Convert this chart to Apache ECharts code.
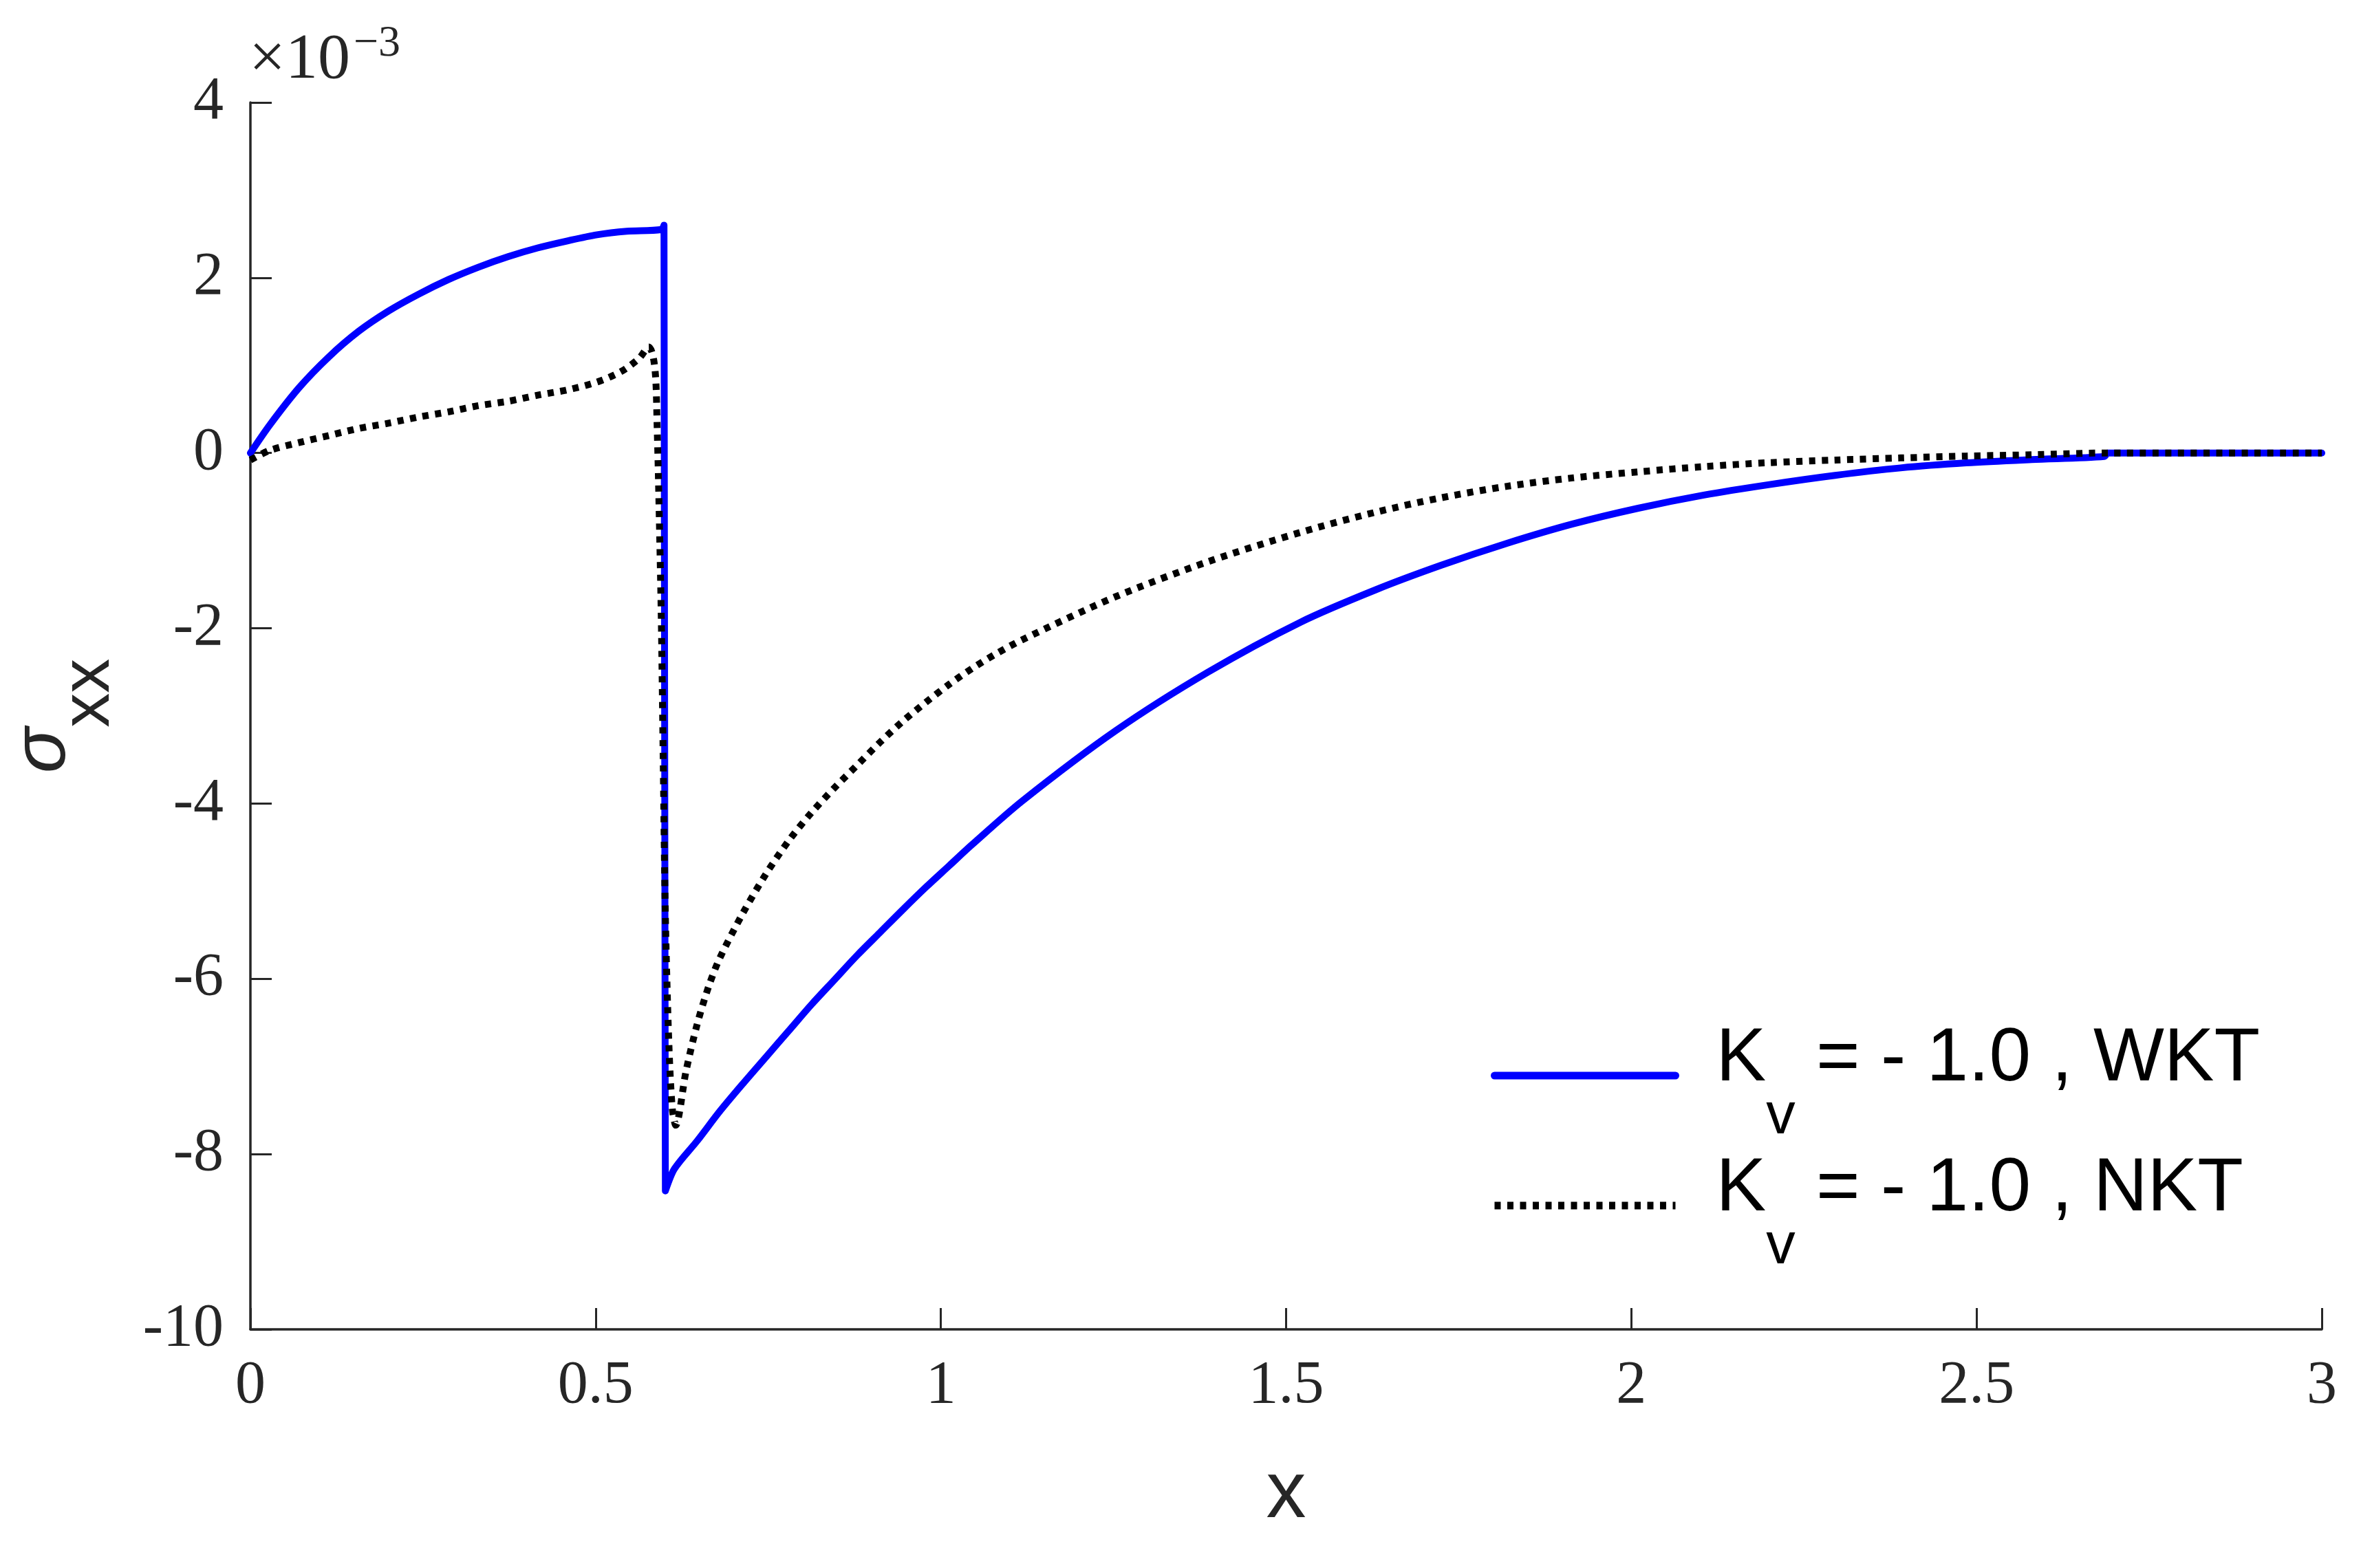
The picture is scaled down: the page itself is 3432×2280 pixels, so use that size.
<!DOCTYPE html>
<html>
<head>
<meta charset="utf-8">
<script src="https://cdn.jsdelivr.net/npm/echarts@6/dist/echarts.min.js"></script>
<style>
html,body{margin:0;padding:0;background:#ffffff;}
#chart{width:3432px;height:2280px;}
</style>
</head>
<body>
<div id="chart"></div>
<script>
// sigma_xx values are in units of 1e-3 (see the x10^-3 axis multiplier)
const xWKT = [0, 0.028, 0.071, 0.114, 0.157, 0.200, 0.243, 0.287, 0.330, 0.373, 0.416, 0.459, 0.502, 0.545, 0.595, 0.599,
  0.601, 0.614, 0.647, 0.680, 0.714, 0.747, 0.780, 0.813, 0.846, 0.879, 0.912, 0.945, 0.979, 1.012, 1.045,
  1.118, 1.253, 1.387, 1.521, 1.630, 1.725, 1.820, 1.915, 2.010, 2.105, 2.200, 2.295, 2.390, 2.485, 2.580, 2.685, 2.690, 3.000];
const yWKT = [0, 0.32, 0.75, 1.10, 1.39, 1.62, 1.81, 1.98, 2.12, 2.24, 2.34, 2.42, 2.49, 2.53, 2.55, 2.60,
  -8.42, -8.17, -7.85, -7.51, -7.19, -6.89, -6.59, -6.29, -6.01, -5.73, -5.47, -5.21, -4.95, -4.71, -4.47,
  -3.97, -3.17, -2.50, -1.93, -1.56, -1.28, -1.03, -0.81, -0.63, -0.48, -0.36, -0.255, -0.17, -0.113, -0.075, -0.04, 0, 0];

const xNKT = [0, 0.028, 0.071, 0.114, 0.157, 0.200, 0.243, 0.287, 0.330, 0.373, 0.416, 0.459, 0.502, 0.537, 0.563, 0.577,
  0.583, 0.587, 0.589, 0.591, 0.595, 0.598, 0.601, 0.606, 0.611, 0.616, 0.631, 0.647, 0.664, 0.680, 0.714, 0.747,
  0.780, 0.813, 0.846, 0.879, 0.912, 0.945, 0.979, 1.012, 1.045, 1.078, 1.118, 1.253, 1.387, 1.521, 1.630, 1.725,
  1.820, 1.915, 2.010, 2.105, 2.200, 2.295, 2.390, 2.485, 2.580, 2.690, 3.000];
const yNKT = [-0.08, 0.03, 0.12, 0.20, 0.28, 0.34, 0.41, 0.47, 0.54, 0.59, 0.66, 0.72, 0.81, 0.93, 1.08, 1.21,
  1.11, 0.85, 0.33, -0.30, -1.84, -3.57, -5.29, -6.73, -7.48, -7.67, -7.05, -6.52, -6.08, -5.76, -5.24, -4.80,
  -4.42, -4.10, -3.82, -3.56, -3.30, -3.06, -2.84, -2.64, -2.46, -2.30, -2.13, -1.64, -1.24, -0.905, -0.675, -0.51,
  -0.38, -0.284, -0.215, -0.155, -0.11, -0.08, -0.056, -0.035, -0.02, 0, 0];

const seriesNames = ['WKT', 'NKT'];
const legendPrefix = 'K';
const legendSub = 'v';
const legendRest = ' = - 1.0 , ';
const xAxisTitle = 'x';
const yAxisSymbol = 'σ';
const yAxisSub = 'xx';
const multiplierBase = '×10';
const multiplierExp = '−3';

const axisColor = '#262626';
const serifFont = '"Liberation Serif", "Times New Roman", serif';
const sansFont = '"Liberation Sans", Arial, sans-serif';
const dotPattern = [9, 9.5];

const chart = echarts.init(document.getElementById('chart'), null, {renderer: 'canvas'});

const option = {
  backgroundColor: '#ffffff',
  animation: false,
  grid: {left: 355, right: 57, top: 149, bottom: 347, containLabel: false},
  xAxis: {
    type: 'value', min: 0, max: 3, interval: 0.5,
    name: xAxisTitle, nameLocation: 'middle', nameGap: 183,
    nameTextStyle: {fontFamily: sansFont, fontSize: 116, color: axisColor},
    axisLine: {show: true, onZero: false, lineStyle: {color: axisColor, width: 3.5}},
    axisTick: {show: true, inside: true, length: 31, lineStyle: {color: axisColor, width: 3}},
    axisLabel: {fontFamily: serifFont, fontSize: 88, color: axisColor, margin: 39},
    splitLine: {show: false}
  },
  yAxis: {
    type: 'value', min: -10, max: 4, interval: 2,
    name: '{s|' + yAxisSymbol + '}{sub|' + yAxisSub + '}', nameLocation: 'middle', nameGap: 184, nameRotate: 90,
    nameTextStyle: {
      rich: {
        s: {fontFamily: sansFont, fontStyle: 'italic', fontSize: 110, color: axisColor, verticalAlign: 'top'},
        sub: {fontFamily: sansFont, fontSize: 100, color: axisColor, verticalAlign: 'top', padding: [72, 0, 0, 0]}
      }
    },
    axisLine: {show: true, onZero: false, lineStyle: {color: axisColor, width: 3.5}},
    axisTick: {show: true, inside: true, length: 31, lineStyle: {color: axisColor, width: 3}},
    axisLabel: {fontFamily: serifFont, fontSize: 88, color: axisColor, margin: 39, padding: [0, 0, 14, 0]},
    splitLine: {show: false}
  },
  legend: {
    orient: 'vertical', left: 2167, top: 1486, padding: 0,
    itemWidth: 263, itemHeight: 14, itemGap: 8,
    itemStyle: {opacity: 0},
    data: [
      {name: seriesNames[0], lineStyle: {color: '#0000ff', width: 11, type: 'solid'}},
      {name: seriesNames[1], lineStyle: {color: '#000000', width: 11, type: dotPattern}}
    ],
    formatter: function (name) {
      return '{k|' + legendPrefix + '}{sub|' + legendSub + '}{t|' + legendRest + name + '}';
    },
    textStyle: {
      color: '#000000',
      rich: {
        k: {fontFamily: sansFont, fontSize: 109, color: '#000000', verticalAlign: 'top', padding: [25, 0, 0, 54]},
        sub: {fontFamily: sansFont, fontSize: 85, color: '#000000', verticalAlign: 'top', padding: [121, 0, 0, 0]},
        t: {fontFamily: sansFont, fontSize: 109, color: '#000000', verticalAlign: 'top', padding: [25, 0, 0, 0]}
      }
    }
  },
  graphic: [
    {type: 'text', x: 362, y: 88, z: 10, style: {text: multiplierBase, font: '94px ' + serifFont, fill: axisColor, verticalAlign: 'middle', textVerticalAlign: 'middle', align: 'left'}},
    {type: 'text', x: 514, y: 64, z: 10, style: {text: multiplierExp, font: '64px ' + serifFont, fill: axisColor, verticalAlign: 'middle', textVerticalAlign: 'middle', align: 'left'}}
  ],
  series: [
    {
      name: seriesNames[0], type: 'line', symbol: 'none', showSymbol: false, smooth: 0.3,
      data: xWKT.map((x, i) => [x, yWKT[i]]),
      lineStyle: {color: '#0000ff', width: 10, type: 'solid', join: 'round', cap: 'round'},
      itemStyle: {color: '#0000ff'},
      z: 2
    },
    {
      name: seriesNames[1], type: 'line', symbol: 'none', showSymbol: false, smooth: 0.3,
      data: xNKT.map((x, i) => [x, yNKT[i]]),
      lineStyle: {color: '#000000', width: 10, type: dotPattern, cap: 'butt', join: 'miter'},
      itemStyle: {color: '#000000'},
      z: 3
    }
  ]
};
chart.setOption(option);
</script>
</body>
</html>
